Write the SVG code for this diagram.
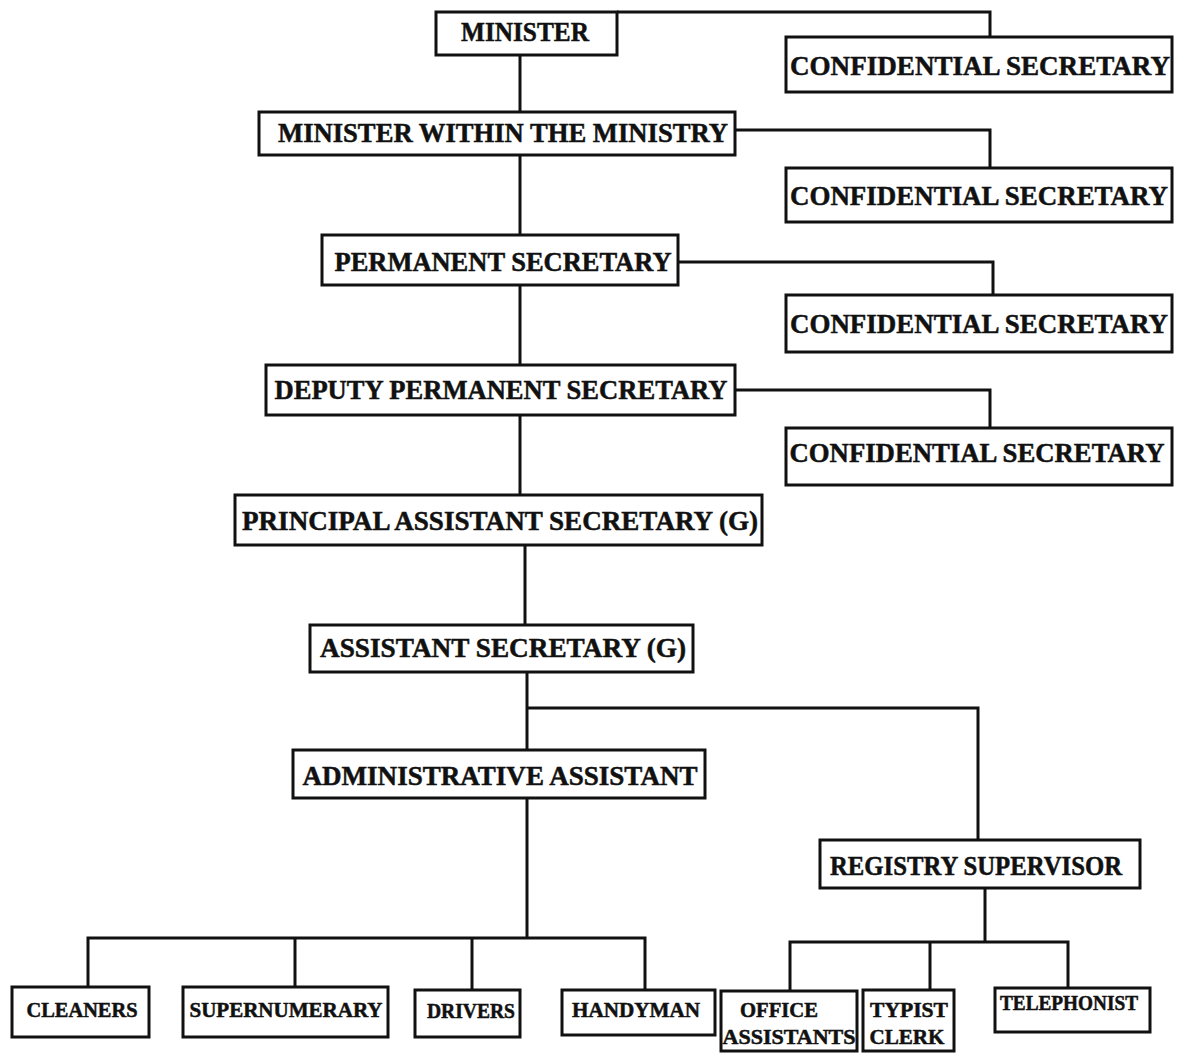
<svg xmlns="http://www.w3.org/2000/svg" width="1178" height="1054" viewBox="0 0 1178 1054">
  <style>
    .box { fill: #ffffff; stroke: #111111; stroke-width: 3; }
    .lbl { font-family: "Liberation Serif", "Times New Roman", serif; font-weight: bold; fill: #111111; stroke: #111111; stroke-width: 0.5; text-anchor: middle; }
    .big { font-size: 27px; }
    .small { font-size: 20px; }
    .wire { fill: none; stroke: #111111; stroke-width: 3; }
  </style>
  <rect width="1178" height="1054" fill="#ffffff"/>

  <!-- connectors -->
  <g id="connectors" class="wire">
    <path d="M617 12 H990 V37"/>
    <path d="M520 55 V112"/>
    <path d="M735 130 H990 V168"/>
    <path d="M520 155 V235"/>
    <path d="M678 262 H993 V295"/>
    <path d="M520 285 V365"/>
    <path d="M735 390 H990 V428"/>
    <path d="M520 415 V495"/>
    <path d="M525 545 V625"/>
    <path d="M527 672 V750"/>
    <path d="M527 708 H978 V840"/>
    <path d="M527 798 V938"/>
    <path d="M88 987 V938 H645 V990"/>
    <path d="M295 938 V987"/>
    <path d="M472 938 V990"/>
    <path d="M985 888 V942"/>
    <path d="M790 991 V942 H1068 V988"/>
    <path d="M930 942 V990"/>
  </g>

  <g id="minister">
    <rect class="box" x="436" y="12" width="181" height="43"/>
    <text class="lbl big" x="525" y="41" textLength="128" lengthAdjust="spacingAndGlyphs">MINISTER</text>
  </g>
  <g id="conf-sec-1">
    <rect class="box" x="786" y="37" width="386" height="55"/>
    <text class="lbl big" x="980" y="75" textLength="380" lengthAdjust="spacingAndGlyphs">CONFIDENTIAL SECRETARY</text>
  </g>
  <g id="minister-within">
    <rect class="box" x="259" y="112" width="476" height="43"/>
    <text class="lbl big" x="503" y="142" textLength="450" lengthAdjust="spacingAndGlyphs">MINISTER WITHIN THE MINISTRY</text>
  </g>
  <g id="conf-sec-2">
    <rect class="box" x="786" y="168" width="386" height="54"/>
    <text class="lbl big" x="979" y="205" textLength="378" lengthAdjust="spacingAndGlyphs">CONFIDENTIAL SECRETARY</text>
  </g>
  <g id="perm-sec">
    <rect class="box" x="322" y="235" width="356" height="50"/>
    <text class="lbl big" x="503" y="271" textLength="337" lengthAdjust="spacingAndGlyphs">PERMANENT SECRETARY</text>
  </g>
  <g id="conf-sec-3">
    <rect class="box" x="786" y="295" width="386" height="57"/>
    <text class="lbl big" x="979" y="333" textLength="378" lengthAdjust="spacingAndGlyphs">CONFIDENTIAL SECRETARY</text>
  </g>
  <g id="deputy-perm-sec">
    <rect class="box" x="266" y="365" width="469" height="50"/>
    <text class="lbl big" x="501" y="399" textLength="453" lengthAdjust="spacingAndGlyphs">DEPUTY PERMANENT SECRETARY</text>
  </g>
  <g id="conf-sec-4">
    <rect class="box" x="786" y="428" width="386" height="57"/>
    <text class="lbl big" x="977" y="462" textLength="375" lengthAdjust="spacingAndGlyphs">CONFIDENTIAL SECRETARY</text>
  </g>
  <g id="principal-asst-sec">
    <rect class="box" x="235" y="495" width="527" height="50"/>
    <text class="lbl big" x="500" y="530" textLength="516" lengthAdjust="spacingAndGlyphs">PRINCIPAL ASSISTANT SECRETARY (G)</text>
  </g>
  <g id="asst-sec">
    <rect class="box" x="310" y="625" width="383" height="47"/>
    <text class="lbl big" x="503" y="657" textLength="366" lengthAdjust="spacingAndGlyphs">ASSISTANT SECRETARY (G)</text>
  </g>
  <g id="admin-asst">
    <rect class="box" x="293" y="750" width="412" height="48"/>
    <text class="lbl big" x="500" y="785" textLength="395" lengthAdjust="spacingAndGlyphs">ADMINISTRATIVE ASSISTANT</text>
  </g>
  <g id="registry-supervisor">
    <rect class="box" x="820" y="840" width="320" height="48"/>
    <text class="lbl big" x="976" y="875" textLength="292" lengthAdjust="spacingAndGlyphs">REGISTRY SUPERVISOR</text>
  </g>
  <g id="cleaners">
    <rect class="box" x="12" y="987" width="137" height="50"/>
    <text class="lbl small" x="82" y="1017" textLength="111" lengthAdjust="spacingAndGlyphs">CLEANERS</text>
  </g>
  <g id="supernumerary">
    <rect class="box" x="183" y="987" width="205" height="50"/>
    <text class="lbl small" x="286" y="1017" textLength="193" lengthAdjust="spacingAndGlyphs">SUPERNUMERARY</text>
  </g>
  <g id="drivers">
    <rect class="box" x="415" y="990" width="105" height="47"/>
    <text class="lbl small" x="471" y="1018" textLength="88" lengthAdjust="spacingAndGlyphs">DRIVERS</text>
  </g>
  <g id="handyman">
    <rect class="box" x="562" y="990" width="153" height="45"/>
    <text class="lbl small" x="636" y="1017" textLength="128" lengthAdjust="spacingAndGlyphs">HANDYMAN</text>
  </g>
  <g id="office-assistants">
    <rect class="box" x="721" y="991" width="136" height="60"/>
    <text class="lbl small" x="779" y="1017" textLength="78" lengthAdjust="spacingAndGlyphs">OFFICE</text>
    <text class="lbl small" x="789" y="1044" textLength="133" lengthAdjust="spacingAndGlyphs">ASSISTANTS</text>
  </g>
  <g id="typist-clerk">
    <rect class="box" x="863" y="990" width="91" height="61"/>
    <text class="lbl small" x="909" y="1017" textLength="78" lengthAdjust="spacingAndGlyphs">TYPIST</text>
    <text class="lbl small" x="907" y="1044" textLength="75" lengthAdjust="spacingAndGlyphs">CLERK</text>
  </g>
  <g id="telephonist">
    <rect class="box" x="995" y="988" width="155" height="44"/>
    <text class="lbl small" x="1069" y="1010" textLength="138" lengthAdjust="spacingAndGlyphs">TELEPHONIST</text>
  </g>
</svg>
